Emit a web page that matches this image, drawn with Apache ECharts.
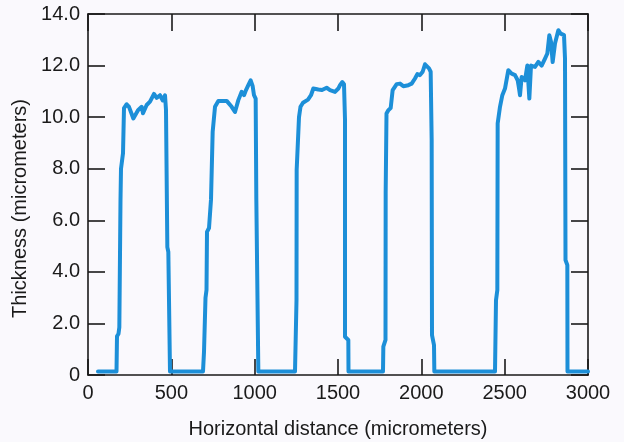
<!DOCTYPE html>
<html>
<head>
<meta charset="utf-8">
<script src="https://cdn.jsdelivr.net/npm/echarts@6/dist/echarts.min.js"></script>
<style>html,body{margin:0;padding:0;background:#faf9fd;}#c{width:624px;height:442px;}</style>
</head>
<body>
<div id="c"></div>
<script>
// Horizontal distance (micrometers)
const distance = [
  60, 171, 174, 183, 188, 195, 198, 210, 216, 232, 246, 272, 300, 322, 330, 352, 372, 396, 412, 432, 448, 462, 468, 476, 482, 492,
  690, 696, 705, 711, 714, 726, 738, 748, 762, 782, 832, 862, 882, 902, 922, 936, 948, 962, 976, 988, 996, 1006, 1010, 1022,
  1242, 1251, 1252, 1266, 1275, 1290, 1320, 1338, 1352, 1382, 1404, 1432, 1452, 1482, 1502, 1512, 1526, 1536, 1542, 1542, 1562, 1563,
  1770, 1772, 1785, 1786, 1791, 1802, 1816, 1828, 1852, 1872, 1892, 1922, 1942, 1962, 1976, 1992, 2008, 2022, 2032, 2046, 2056, 2062, 2064, 2076, 2078,
  2442, 2448, 2456, 2458, 2472, 2486, 2502, 2522, 2542, 2562, 2578, 2586, 2592, 2602, 2622, 2636, 2648, 2658, 2682, 2702, 2722, 2742, 2756, 2768, 2778, 2788, 2802, 2822, 2836, 2856, 2862, 2865, 2876, 2877,
  3000
];
// Thickness (micrometers)
const thickness = [
  0.14, 0.14, 1.5, 1.6, 1.85, 6.8, 8.0, 8.6, 10.35, 10.5, 10.4, 9.95, 10.27, 10.4, 10.15, 10.47, 10.6, 10.9, 10.75, 10.85, 10.65, 10.85, 10.27, 4.96, 4.77, 0.14,
  0.14, 0.9, 3.0, 3.3, 5.55, 5.7, 6.8, 9.43, 10.4, 10.63, 10.63, 10.4, 10.2, 10.66, 10.98, 10.85, 11.05, 11.24, 11.43, 11.2, 10.85, 10.72, 6.8, 0.14,
  0.14, 2.9, 7.95, 10.0, 10.4, 10.56, 10.68, 10.85, 11.11, 11.07, 11.05, 11.14, 11.05, 10.98, 11.11, 11.24, 11.36, 11.28, 9.9, 1.48, 1.36, 0.14,
  0.14, 1.1, 1.36, 7.05, 10.14, 10.27, 10.35, 11.05, 11.28, 11.3, 11.2, 11.24, 11.3, 11.5, 11.67, 11.63, 11.76, 12.05, 12.08, 11.89, 11.76, 9.1, 1.55, 1.16, 0.14,
  0.14, 2.9, 3.3, 9.75, 10.4, 10.85, 11.11, 11.82, 11.69, 11.63, 11.43, 11.12, 10.85, 11.56, 11.43, 12.0, 10.72, 12.0, 11.95, 12.14, 12.0, 12.27, 12.47, 13.18, 12.92, 12.14, 12.86, 13.37, 13.24, 13.18, 12.27, 4.46, 4.26, 0.14,
  0.14
];
const xTicks = [0, 500, 1000, 1500, 2000, 2500, 3000];
const yTicks = [0, 2, 4, 6, 8, 10, 12, 14];

const points = distance.map((d, i) => [d, thickness[i]]);
const font = '"Liberation Sans", Arial, sans-serif';
const ink = '#1a1a1a';
const gridBox = {left: 88, right: 36, top: 14, bottom: 67, containLabel: false, outerBoundsMode: 'none'};

const xBase = {type: 'value', min: xTicks[0], max: xTicks[xTicks.length - 1], interval: 500, splitLine: {show: false}};
const yBase = {type: 'value', min: yTicks[0], max: yTicks[yTicks.length - 1], interval: 2, splitLine: {show: false}};
const lineSt = {color: ink, width: 1.6};

const chart = echarts.init(document.getElementById('c'), null, {renderer: 'canvas'});
chart.setOption({
  backgroundColor: '#faf9fd',
  animation: false,
  grid: [Object.assign({}, gridBox), Object.assign({}, gridBox)],
  xAxis: [Object.assign({}, xBase, {
    gridIndex: 0, position: 'bottom',
    axisLine: {show: true, onZero: false, lineStyle: lineSt},
    axisTick: {show: true, inside: true, length: 16, lineStyle: lineSt},
    axisLabel: {color: ink, fontFamily: font, fontSize: 20, margin: 8, formatter: v => String(v)},
    name: 'Horizontal distance (micrometers)',
    nameLocation: 'middle', nameGap: 44,
    nameTextStyle: {color: ink, fontFamily: font, fontSize: 20}
  }), Object.assign({}, xBase, {
    gridIndex: 1, position: 'top',
    axisLine: {show: true, onZero: false, lineStyle: lineSt},
    axisTick: {show: true, inside: true, length: 17, lineStyle: lineSt},
    axisLabel: {show: false}
  })],
  yAxis: [Object.assign({}, yBase, {
    gridIndex: 0, position: 'left',
    axisLine: {show: true, onZero: false, lineStyle: lineSt},
    axisTick: {show: true, inside: true, length: 17, lineStyle: lineSt},
    axisLabel: {color: ink, fontFamily: font, fontSize: 20, margin: 8,
      formatter: v => v === 0 ? '0' : v.toFixed(1)},
    name: 'Thickness (micrometers)',
    nameLocation: 'middle', nameGap: 58,
    nameTextStyle: {color: ink, fontFamily: font, fontSize: 20, padding: [0, 28, 0, 0]}
  }), Object.assign({}, yBase, {
    gridIndex: 1, position: 'right',
    axisLine: {show: true, onZero: false, lineStyle: lineSt},
    axisTick: {show: true, inside: true, length: 17, lineStyle: lineSt},
    axisLabel: {show: false}
  })],
  series: [{
    type: 'line',
    xAxisIndex: 0, yAxisIndex: 0,
    data: points,
    showSymbol: false,
    lineStyle: {color: '#1c8fd8', width: 4, join: 'round', cap: 'round'},
    z: 1
  }, {
    type: 'line',
    xAxisIndex: 1, yAxisIndex: 1,
    data: [],
    showSymbol: false
  }]
});
</script>
</body>
</html>
